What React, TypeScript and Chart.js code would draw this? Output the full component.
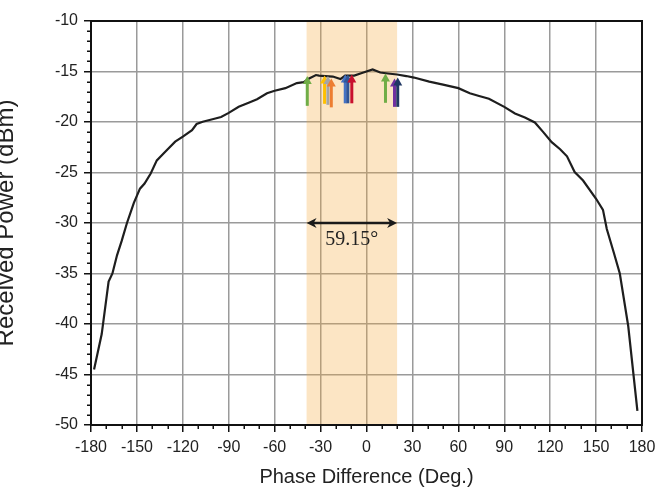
import { useEffect, useRef } from 'react';
import { Chart, registerables } from 'chart.js';

Chart.register(...registerables);

// Measured curve: phase difference (deg) vs received power (dBm)
const PHASE = [
  -178, -173, -168.5, -166, -163, -160, -156.5, -152, -148, -145, -141, -137, -131.5, -125, -120,
  -114, -111, -107, -100, -95, -90, -83.5, -77, -71.5, -65, -60, -53, -45.5, -41, -37.5, -33,
  -31, -27, -22, -17, -14, -8, -3, 4, 9, 14, 20, 26, 31, 41, 50, 60, 67.5, 73, 80, 90, 97,
  103.5, 110, 115.5, 121, 126.5, 131, 136, 141.5, 150, 154.5, 157, 161.5, 165.5, 171, 177,
];
const POWER = [
  -44.5, -41.0, -35.8, -35.0, -33.2, -31.8, -30.0, -28.0, -26.6, -26.1, -25.1, -23.8, -22.95, -21.95, -21.45,
  -20.8, -20.2, -19.97, -19.7, -19.5, -19.1, -18.5, -18.1, -17.75, -17.15, -16.9, -16.65, -16.15, -16.05, -15.7, -15.35,
  -15.4, -15.45, -15.5, -15.75, -15.4, -15.4, -15.15, -14.8, -15.1, -15.2, -15.3, -15.45, -15.6, -16.0, -16.3, -16.65, -17.15, -17.4, -17.7, -18.5, -19.15,
  -19.55, -20.05, -21.0, -22.0, -22.7, -23.4, -24.95, -25.8, -27.6, -28.7, -30.6, -32.9, -35.0, -40.2, -48.6,
];

// Vertical marker arrows
const ARROW_X = [-38.7, -27.4, -25.2, -23.0, -13.9, -12.2, -9.6, 12.4, 18.3, 20.4];
const ARROW_TOP = [-15.45, -15.4, -15.45, -15.7, -15.3, -15.3, -15.3, -15.2, -15.7, -15.6];
const ARROW_BOTTOM = [-18.4, -18.2, -18.3, -18.55, -18.15, -18.15, -18.15, -18.1, -18.5, -18.5];
const ARROW_COLORS = ['#70AD47', '#FFC000', '#A5A5A5', '#ED7D31', '#4472C4', '#2F5597', '#C8102E', '#70AD47', '#7030A0', '#203864'];

// Shaded beam-width band and its annotation
const BAND = [-39.15, 20];
const SPAN_Y = -30;
const SPAN_LABEL = '59.15°';

const X_RANGE = [-180, 180];
const Y_RANGE = [-50, -10];
const X_STEP = 30;
const Y_STEP = 5;
const X_MINOR_STEP = 10;
const Y_MINOR_STEP = 1;

const X_TITLE = 'Phase Difference (Deg.)';
const Y_TITLE = 'Received Power (dBm)';

const SANS = '"Liberation Sans", Arial, sans-serif';
const SERIF = '"Liberation Serif", "DejaVu Serif", serif';

const overlay = {
  id: 'overlay',
  beforeDatasetsDraw(chart: any) {
    const { ctx, chartArea, scales } = chart;
    const x1 = scales.x.getPixelForValue(BAND[0]);
    const x2 = scales.x.getPixelForValue(BAND[1]);
    ctx.save();
    ctx.fillStyle = 'rgba(245, 170, 60, 0.3)';
    ctx.fillRect(x1, chartArea.top, x2 - x1, chartArea.bottom - chartArea.top);
    ctx.restore();
  },
  afterDatasetsDraw(chart: any) {
    const { ctx, scales } = chart;
    const xs = scales.x;
    const ys = scales.y;
    ctx.save();
    // vertical arrows
    for (let i = 0; i < ARROW_X.length; i++) {
      const x = xs.getPixelForValue(ARROW_X[i]);
      const yt = ys.getPixelForValue(ARROW_TOP[i]);
      const yb = ys.getPixelForValue(ARROW_BOTTOM[i]);
      ctx.fillStyle = ARROW_COLORS[i];
      ctx.fillRect(x - 1.5, yt + 6, 3, yb - yt - 6);
      ctx.beginPath();
      ctx.moveTo(x, yt);
      ctx.lineTo(x - 4.5, yt + 8);
      ctx.lineTo(x + 4.5, yt + 8);
      ctx.closePath();
      ctx.fill();
    }
    // double-headed span arrow
    const ax1 = xs.getPixelForValue(BAND[0]);
    const ax2 = xs.getPixelForValue(BAND[1]);
    const ay = ys.getPixelForValue(SPAN_Y);
    ctx.strokeStyle = '#1a1a1a';
    ctx.fillStyle = '#1a1a1a';
    ctx.lineWidth = 2.5;
    ctx.beginPath();
    ctx.moveTo(ax1 + 5, ay);
    ctx.lineTo(ax2 - 5, ay);
    ctx.stroke();
    const head = (tip: number, dir: number) => {
      ctx.beginPath();
      ctx.moveTo(tip, ay);
      ctx.lineTo(tip + dir * 10, ay - 5);
      ctx.lineTo(tip + dir * 7, ay);
      ctx.lineTo(tip + dir * 10, ay + 5);
      ctx.closePath();
      ctx.fill();
    };
    head(ax1, 1);
    head(ax2, -1);
    ctx.font = `20px ${SERIF}`;
    ctx.textAlign = 'center';
    ctx.textBaseline = 'middle';
    ctx.fillStyle = '#222';
    ctx.fillText(SPAN_LABEL, (ax1 + ax2) / 2, ay + 17);
    ctx.restore();
  },
  afterDraw(chart: any) {
    const { ctx, chartArea, scales } = chart;
    const xs = scales.x;
    const ys = scales.y;
    ctx.save();
    // minor ticks
    ctx.strokeStyle = '#111';
    ctx.lineWidth = 1.5;
    ctx.beginPath();
    for (let v = X_RANGE[0]; v <= X_RANGE[1]; v += X_MINOR_STEP) {
      if (v % X_STEP === 0) continue;
      const px = Math.round(xs.getPixelForValue(v)) + 0.25;
      ctx.moveTo(px, chartArea.bottom);
      ctx.lineTo(px, chartArea.bottom + 4);
    }
    for (let v = Y_RANGE[0]; v <= Y_RANGE[1]; v += Y_MINOR_STEP) {
      if (v % Y_STEP === 0) continue;
      const py = Math.round(ys.getPixelForValue(v)) + 0.25;
      ctx.moveTo(chartArea.left - 4, py);
      ctx.lineTo(chartArea.left, py);
    }
    ctx.stroke();
    // frame
    ctx.lineWidth = 2;
    ctx.strokeStyle = '#111';
    ctx.strokeRect(chartArea.left, chartArea.top, chartArea.right - chartArea.left, chartArea.bottom - chartArea.top);
    // axis titles
    ctx.fillStyle = '#222';
    ctx.font = `20px ${SANS}`;
    ctx.textAlign = 'center';
    ctx.textBaseline = 'middle';
    ctx.fillText(X_TITLE, (chartArea.left + chartArea.right) / 2, 477);
    ctx.translate(13, (chartArea.top + chartArea.bottom) / 2);
    ctx.rotate(-Math.PI / 2);
    ctx.font = `24px ${SANS}`;
    ctx.textBaseline = 'alphabetic';
    ctx.fillText(Y_TITLE, 0, 0);
    ctx.restore();
  },
};

export default function App() {
  const ref = useRef<HTMLCanvasElement>(null);
  useEffect(() => {
    const chart = new Chart(ref.current!, {
      type: 'line',
      data: {
        datasets: [
          {
            data: PHASE.map((p, i) => ({ x: p, y: POWER[i] })),
            borderColor: '#1e1e1e',
            borderWidth: 2.2,
            pointRadius: 0,
            tension: 0,
            fill: false,
          },
        ],
      },
      options: {
        responsive: false,
        devicePixelRatio: 1,
        animation: false,
        events: [],
        layout: { padding: { top: 21, right: 13, left: 0, bottom: 0 } },
        plugins: { legend: { display: false }, tooltip: { enabled: false }, title: { display: false } },
        scales: {
          x: {
            type: 'linear',
            min: X_RANGE[0],
            max: X_RANGE[1],
            ticks: {
              stepSize: X_STEP,
              autoSkip: false,
              maxRotation: 0,
              padding: 6,
              color: '#222',
              font: { family: SANS, size: 16 },
              callback: (v: any) => String(v),
            },
            grid: { color: '#9a9a9a', lineWidth: 1.5, tickLength: 7, tickColor: '#111', tickWidth: 1.5 },
            border: { color: '#111', width: 2 },
            afterFit: (s: any) => { s.height = 63; s.paddingLeft = 0; s.paddingRight = 0; },
          },
          y: {
            type: 'linear',
            min: Y_RANGE[0],
            max: Y_RANGE[1],
            ticks: {
              stepSize: Y_STEP,
              autoSkip: false,
              padding: 6,
              color: '#222',
              font: { family: SANS, size: 16 },
              callback: (v: any) => String(v),
            },
            grid: { color: '#9a9a9a', lineWidth: 1.5, tickLength: 7, tickColor: '#111', tickWidth: 1.5 },
            border: { color: '#111', width: 2 },
            afterFit: (s: any) => { s.width = 91; s.paddingTop = 0; s.paddingBottom = 0; },
          },
        },
      },
      plugins: [overlay],
    } as any);
    return () => chart.destroy();
  }, []);
  return (
    <div style={{ position: 'fixed', left: 0, top: 0, width: 655, height: 488, background: '#fff' }}>
      <canvas ref={ref} width={655} height={488} style={{ display: 'block', width: 655, height: 488 }} />
    </div>
  );
}
